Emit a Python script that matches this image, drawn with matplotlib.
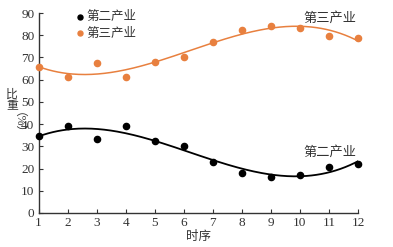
import numpy as np
import matplotlib
matplotlib.use("Agg")
import matplotlib.pyplot as plt

plt.rcParams['font.family'] = ['Liberation Serif', 'Noto Sans CJK SC']

# data
periods = np.arange(1, 13)
secondary = [34.5, 39.1, 33.1, 39.1, 32.5, 30.1, 23.1, 18.0, 16.2, 17.2, 20.7, 21.9]
tertiary = [65.8, 61.2, 67.4, 61.2, 67.8, 70.3, 77.2, 82.6, 84.3, 83.4, 79.8, 78.9]
series_names = ["第二产业", "第三产业"]
y_ticks = [0, 10, 20, 30, 40, 50, 60, 70, 80, 90]

BLACK = "#000000"
ORANGE = "#E8803F"
GREY = "#333333"

fig = plt.figure(figsize=(3.93, 2.47), dpi=100)
ax = fig.add_axes([0.098, 0.138, 0.813, 0.809])

# cubic trend lines
xs = np.linspace(1, 12, 200)
for vals, col, lw in [(secondary, BLACK, 1.3), (tertiary, ORANGE, 1.1)]:
    coef = np.polyfit(periods, vals, 3)
    ax.plot(xs, np.polyval(coef, xs), color=col, lw=lw, zorder=2)

ax.scatter(periods, secondary, s=20, color=BLACK, label=series_names[0],
           zorder=3, clip_on=False)
ax.scatter(periods, tertiary, s=20, color=ORANGE, label=series_names[1],
           zorder=3, clip_on=False)

ax.set_xlim(1, 12)
ax.set_ylim(0, 90)
ax.set_xticks(periods)
ax.set_yticks(y_ticks)
ax.tick_params(direction="in", length=3, width=0.8, labelsize=9.5,
               colors=GREY, pad=3)
for side in ["top", "right"]:
    ax.spines[side].set_visible(False)
for side in ["left", "bottom"]:
    ax.spines[side].set_color(GREY)
    ax.spines[side].set_linewidth(1.0)

# axis titles
ax.set_xlabel("时序", fontsize=9, color=GREY, labelpad=1)
fig.text(0.031, 0.615, "比", fontsize=8.5, color=GREY, ha="center", va="center")
fig.text(0.031, 0.571, "重", fontsize=8.5, color=GREY, ha="center", va="center")
fig.text(0.031, 0.478, "（%）", fontsize=8.5, color=GREY, ha="center",
         va="center", rotation=-90)

# series labels on the curves
ax.text(11.95, 87.7, series_names[1], fontsize=9.5, color=GREY,
        ha="right", va="center")
ax.text(11.95, 27.5, series_names[0], fontsize=9.5, color=GREY,
        ha="right", va="center")

ax.legend(loc="upper left", bbox_to_anchor=(0.095, 1.035), frameon=False,
          fontsize=9, handletextpad=0.0, labelspacing=0.35,
          handlelength=1.0, labelcolor=GREY, borderaxespad=0,
          markerscale=0.8)

fig.savefig("out.png", dpi=100)
